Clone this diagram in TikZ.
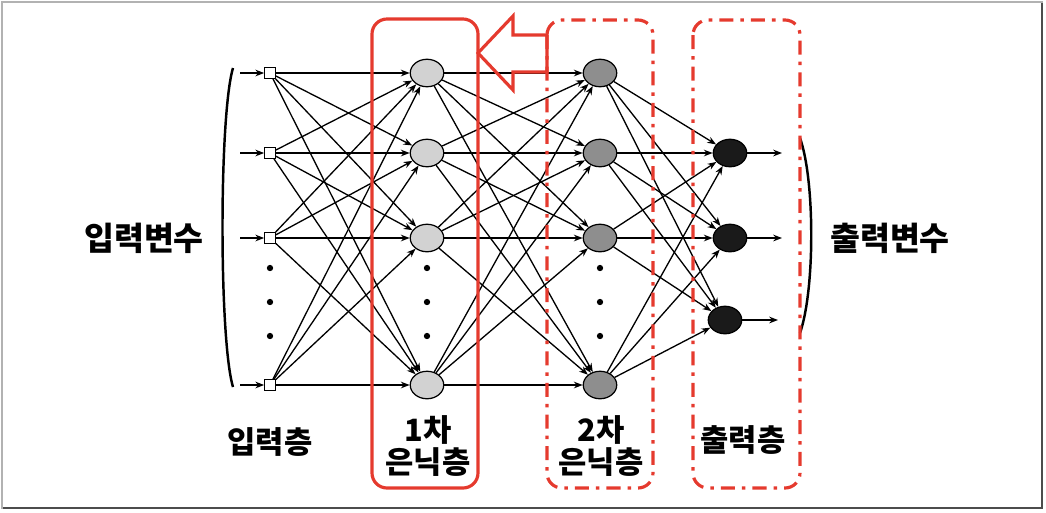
\documentclass[tikz,border=0pt]{standalone}
\usepackage{fontspec}
\setmainfont{Noto Sans CJK KR}
\usetikzlibrary{shapes.geometric,arrows.meta}
\definecolor{redc}{HTML}{E53A2E}
\definecolor{hidAfill}{HTML}{D2D2D2}
\definecolor{hidBfill}{HTML}{8E8E8E}
\definecolor{outfill}{HTML}{1A1A1A}
\begin{document}
\begin{tikzpicture}[x=0.02cm,y=-0.02cm,
  inp/.style={draw, fill=white, minimum size=0.21cm, inner sep=0pt, line width=0.7pt},
  neur/.style={ellipse, draw, minimum width=0.67cm, minimum height=0.55cm, inner sep=0pt, line width=0.7pt},
  hidA/.style={neur, fill=hidAfill},
  hidB/.style={neur, fill=hidBfill},
  outn/.style={neur, fill=outfill},
  edge/.style={line width=0.75pt, -{Stealth[length=5pt,width=3.8pt]}},
  dotn/.style={circle, fill=black, inner sep=0pt, minimum size=3.6pt},
  redbox/.style={draw=redc, line width=1.8pt, rounded corners=0.3cm},
  dashdotred/.style={dash pattern=on 8pt off 4pt on 2pt off 4pt},
  lab/.style={font=\bfseries\fontsize{18.5}{18}\selectfont, inner sep=0pt},
  slab/.style={font=\bfseries\fontsize{17.5}{18}\selectfont, inner sep=0pt},
  brk/.style={line width=1.4pt}
]
\useasboundingbox (0,0) rectangle (1046,512);
% outer frame
\draw[gray!60, line width=0.8pt] (2,2) rectangle (1042,508);
\draw[black!70, line width=1.4pt] (1042,3) -- (1042,508) -- (3,508);

% nodes
\foreach \i/\y in {1/73,2/153,3/238,4/385} {
  \node[inp] (i\i) at (270,\y) {};
  \node[hidA] (a\i) at (427,\y) {};
  \node[hidB] (b\i) at (600,\y) {};
  \coordinate (s\i) at (240,\y);
}
\node[outn] (o1) at (730,153) {};
\node[outn] (o2) at (730,238) {};
\node[outn] (o3) at (725,320) {};
\coordinate (e1) at (782,153);
\coordinate (e2) at (782,238);
\coordinate (e3) at (778,320);

% dots
\foreach \x/\n in {270/p,427/q,600/r} {
  \foreach \y/\k in {268/1,302/2,336/3} {
    \node[dotn] (\n\k) at (\x,\y) {};
  }
}

% edges
\foreach \i in {1,...,4} {
  \draw[edge] (s\i) -- (i\i);
  \foreach \j in {1,...,4} {
    \draw[edge] (i\i) -- (a\j);
    \draw[edge] (a\i) -- (b\j);
  }
  \foreach \j in {1,...,3} {
    \draw[edge] (b\i) -- (o\j);
  }
}
\foreach \j in {1,...,3} { \draw[edge] (o\j) -- (e\j); }

% brackets
\coordinate (lbt) at (233,68);
\coordinate (lbb) at (233,387);
\draw[brk] (lbt) .. controls (219,115) and (219,340) .. (lbb);
\coordinate (rbt) at (800,138);
\coordinate (rbb) at (800,333);
\draw[brk] (rbt) .. controls (815,180) and (815,290) .. (rbb);

% labels
\node[lab] (lin) at (144,238) {입력변수};
\node[lab] (lout) at (890,238) {출력변수};
\node[slab] (l0) at (270,442) {입력층};
\node[slab, align=center] (l1) at (428,446) {1차\\은닉층};
\node[slab, align=center] (l2) at (601,446) {2차\\은닉층};
\node[slab] (l3) at (743,440) {출력층};

% red boxes
\draw[redbox] (372,19) rectangle (478,488);
\draw[redbox, dashdotred] (547,20) rectangle (653,488);
\draw[redbox, dashdotred] (693,20) rectangle (800,488);

% hollow arrow
\draw[draw=redc, line width=1.8pt, line join=miter] (478,53) -- (513,16) -- (513,35) -- (547,35) -- (547,72) -- (513,72) -- (513,90) -- cycle;
\end{tikzpicture}
\end{document}
